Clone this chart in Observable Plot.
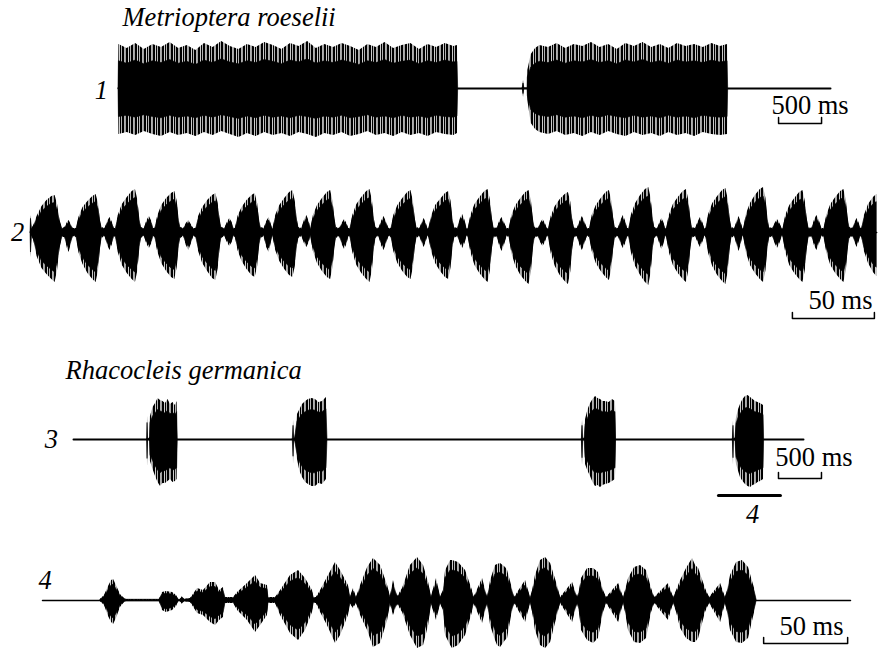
<!DOCTYPE html>
<html>
<head>
<meta charset="utf-8">
<script src="https://cdn.jsdelivr.net/npm/d3@7"></script>
<script src="https://cdn.jsdelivr.net/npm/@observablehq/plot@0.6"></script>
<style>
  html, body { margin: 0; padding: 0; background: #fff; overflow: hidden; }
  #chart svg { display: block; }
  #chart text { font-family: "Liberation Serif", "Times New Roman", "DejaVu Serif", serif !important; }
</style>
</head>
<body>
<svg width="0" height="0" style="position:absolute">
  <defs>
    <pattern id="hatch" width="9" height="6" patternUnits="userSpaceOnUse">
      <rect x="0" y="0" width="2" height="6" fill="black"/>
      <rect x="2.8" y="0" width="1.5" height="6" fill="black"/>
      <rect x="5" y="0" width="2.2" height="6" fill="black"/>
      <rect x="7.8" y="0" width="0.7" height="6" fill="#444"/>
    </pattern>
  </defs>
</svg>
<div id="chart"></div>
<script>
// ---------- DATA (time in ms, amplitude in relative units: [t, upper, lower]) ----------
const speciesNames = ["Metrioptera roeselii", "Rhacocleis germanica"];
const traceNumbers = ["1", "2", "3", "4"];
const scaleLabels = ["500 ms", "50 ms", "500 ms", "50 ms"];
const detailLabel = "4";

// Trace 1: M. roeselii, two long echemes
const t1Line = [0, 8280];
const t1Burst1 = [[0,0,0],[5,44,46],[100,40,44],[200,45,47],[300,39,43],[400,44,46],[500,41,48],[600,46,44],[700,40,47],[800,43,45],[900,38,48],[1000,45,44],[1100,41,47],[1200,47,43],[1300,42,46],[1400,39,49],[1500,44,45],[1600,41,48],[1700,46,44],[1800,43,47],[1900,39,45],[2000,45,48],[2100,42,44],[2200,47,46],[2300,40,49],[2400,44,45],[2500,41,47],[2600,45,44],[2700,42,48],[2800,38,46],[2900,44,43],[3000,41,47],[3100,46,45],[3200,40,48],[3300,43,44],[3400,45,47],[3500,39,45],[3600,44,48],[3700,41,44],[3800,45,46],[3900,42,47],[3942,43,45],[3950,0,0]];
const t1Burst2 = [[4700,0,0],[4710,8,9],[4720,0,0],[4757,0,0],[4760,18,12],[4800,34,35],[4850,40,41],[4900,43,44],[5000,41,46],[5100,45,43],[5200,40,47],[5300,44,45],[5400,42,48],[5500,46,44],[5600,41,47],[5700,44,43],[5800,39,46],[5900,45,48],[6000,42,44],[6100,46,47],[6200,41,45],[6300,44,48],[6400,40,44],[6500,45,47],[6600,42,45],[6700,44,48],[6800,41,44],[6900,45,46],[7000,42,47],[7083,44,46],[7090,0,0]];
const t1Scale = [7676, 8176];

// Trace 2: M. roeselii, syllables at high time resolution
const t2Line = [0, 516];
const t2Envelope = [
[0,0,0],[0.3,17,25],[0.9,4,4],[2,7,8],[4,16,24],[7,26,36],[10,32,42],[13,36,47],[15,37,50],[16.5,28,38],[18,12,16],[19.5,4,5],[21,5,5],[22.5,10,16],[23.5,12,20],[24.5,9,14],[26,4,4],
[28,4,5],[29.5,15,20],[32,25,32],[35,31,41],[38,36,47],[40,38,50],[41.5,29,38],[42.5,13,18],[43.5,5,6],[45.5,4,4],[47,11,13],[48.5,15,18],[50,10,12],[51,4,4],
[52,4,5],[53.5,17,20],[56,28,33],[59,35,41],[62,41,47],[64,43,50],[65.5,32,38],[66.5,15,18],[67.5,5,6],[69.5,4,4],[71,12,12],[72.5,16,16],[74,11,11],[75,4,4],
[76,4,5],[77.5,16,19],[80,27,31],[83,34,39],[86,39,45],[88,41,47],[89.5,31,35],[90.5,14,16],[91.5,5,6],[93.5,4,4],[95,9,13],[96.5,12,18],[98,8,12],[99.5,4,4],
[101,4,5],[102.5,16,19],[105,25,31],[108,32,39],[111,37,46],[113,39,48],[114.5,29,36],[115.5,14,17],[116.5,5,6],[118.5,4,4],[120,10,10],[121.5,14,14],[123,10,10],[124,4,4],
[125,4,5],[126.5,16,18],[129,25,29],[132,32,37],[135,37,43],[137,39,45],[138.5,29,34],[139.5,14,16],[140.5,5,6],[142.5,4,4],[144,11,15],[145.5,15,20],[146.5,10,13],[147.5,4,4],
[148,4,5],[149.5,17,18],[152,27,29],[155,34,37],[158,40,43],[160,42,45],[161.5,31,34],[162.5,15,16],[163.5,5,6],[165.5,4,4],[167,12,11],[168.5,17,15],[170,11,10],[170.7,4,4],
[171,4,5],[172.5,17,19],[175,27,31],[178,34,39],[181,40,45],[183,42,47],[184.5,31,35],[185.5,15,16],[186.5,5,6],[188.5,4,4],[190,9,12],[191.5,13,17],[193,9,12],[194,4,4],
[195,4,5],[196.5,17,20],[199,28,33],[202,35,41],[205,41,47],[207,43,50],[208.5,32,38],[209.5,15,18],[210.5,5,6],[212.5,4,4],[214,11,13],[215.5,16,18],[217,11,12],[218.5,4,4],
[220,4,5],[221.5,17,19],[224,27,31],[227,34,39],[230,40,45],[232,42,47],[233.5,31,35],[234.5,15,16],[235.5,5,6],[237.5,4,4],[238.8,10,11],[240,14,15],[241.2,10,10],[242.2,4,4],
[243,4,5],[244.5,16,19],[247,27,31],[250,33,39],[253,39,45],[255,41,47],[256.5,31,35],[257.5,14,16],[258.5,5,6],[260.5,4,4],[262,13,11],[263.5,18,16],[265,12,11],[266,4,4],
[267,4,5],[268.5,17,20],[271,28,33],[274,35,41],[277,41,47],[279,43,50],[280.5,32,38],[281.5,15,18],[282.5,5,6],[284.5,4,4],[286,11,13],[287.5,15,19],[289,10,13],[290.5,4,4],
[292,4,5],[293.5,17,21],[296,27,34],[299,34,43],[302,40,49],[304,42,52],[305.5,31,39],[306.5,15,18],[307.5,5,6],[309.5,4,4],[311,9,10],[312.5,13,14],[314,9,10],[315,4,4],
[316,4,5],[317.5,16,21],[320,26,34],[323,33,43],[326,38,49],[328,40,52],[329.5,30,39],[330.5,14,18],[331.5,5,6],[333.5,4,4],[335,11,13],[336.5,16,18],[338,11,12],[339.5,4,4],
[341,4,5],[342.5,17,19],[345,27,31],[348,34,39],[351,40,45],[353,42,48],[354.5,31,36],[355.5,15,17],[356.5,5,6],[358.5,4,4],[360,12,11],[361.5,17,16],[363,11,11],[364,4,4],
[365,4,5],[366.5,18,21],[369,29,34],[372,37,43],[375,43,50],[377,45,53],[378.5,34,40],[379.5,16,19],[380.5,5,6],[382.5,4,4],[383.8,10,12],[385,14,17],[386.2,10,12],[387.3,4,4],
[388,4,5],[389.5,17,20],[392,28,33],[395,35,41],[398,41,47],[400,43,50],[401.5,32,38],[402.5,15,18],[403.5,5,6],[405.5,4,4],[407,10,10],[408.5,15,15],[410,10,10],[411,4,4],
[412,4,5],[413.5,18,21],[416,29,34],[419,36,43],[422,42,49],[424,44,52],[425.5,33,39],[426.5,15,18],[427.5,5,6],[429.5,4,4],[430.8,11,13],[432,16,19],[433.2,11,13],[434.3,4,4],
[435,4,5],[436.5,18,20],[439,29,33],[442,37,41],[445,43,47],[447,45,50],[448.5,34,38],[449.5,16,18],[450.5,5,6],[452.5,4,4],[454,9,11],[455.5,13,16],[457,9,11],[458.3,4,4],
[459,4,5],[460.5,17,20],[463,27,33],[466,34,41],[469,40,47],[471,42,50],[472.5,31,38],[473.5,15,18],[474.5,5,6],[476.5,4,4],[478,12,13],[479.5,17,18],[481,12,12],[482.5,4,4],
[484,4,5],[485.5,17,20],[488,28,33],[491,35,41],[494,41,47],[496,43,50],[497.5,32,38],[498.5,15,18],[499.5,5,6],[501.5,4,4],[502.8,10,10],[504,14,15],[505.2,10,10],[506.3,4,4],
[507,4,5],[508.5,17,19],[511,28,31],[514,35,40],[516,38,44]
];
const t2Scale = [464.6, 514.6];

// Trace 3: R. germanica, four short echemes
const t3Line = [0, 8490];
const t3Bursts = [
[[855,0,0],[861,23,27],[868,0,0],[890,2,2],[895,23,22],[925,32,30],[954,36,37],[983,41,43],[1012,39,47],[1041,38,44],[1070,36,44],[1099,40,42],[1128,35,40],[1157,37,43],[1186,34,42],[1205,38,40],[1212,0,0]],
[[2550,0,0],[2559,19,24],[2566,0,0],[2578,2,2],[2605,25,20],[2634,30,32],[2663,35,38],[2700,38,43],[2733,40,45],[2775,41,47],[2814,40,47],[2855,37,44],[2896,38,45],[2942,42,40],[2954,0,0]],
[[5912,0,0],[5920,19,26],[5927,0,0],[5945,2,2],[5955,20,25],[5985,30,32],[6013,36,37],[6042,40,43],[6071,43,47],[6100,41,46],[6129,40,48],[6158,38,46],[6187,38,45],[6230,37,44],[6268,40,42],[6303,38,40],[6310,0,0]],
[[7668,0,0],[7676,19,26],[7683,0,0],[7700,2,2],[7711,22,25],[7735,30,32],[7757,35,38],[7786,40,42],[7815,43,45],[7845,44,47],[7874,42,48],[7903,40,46],[7932,38,45],[7961,37,43],[7990,36,42],[8025,34,40],[8032,0,0]]
];
const t3Scale = [8199, 8699];
const t3Detail = [7501, 8222];

// Trace 4: R. germanica, one echeme at high time resolution
const t4Line = [0, 480.9];
const t4Envelope = [
[34.5,1,1],[36.9,5,5],[39.3,14,16],[41.1,20,22],[42.3,21,24],[44.0,15,18],[46.4,6,7],[48.8,2,2],[50.0,1,1],
[69.6,1,1],[71.4,8,10],[73.8,9,12],[77.4,8,10],[79.8,5,6],[81.0,1,1],[82.1,1,1],[83.3,4,4],[84.5,1,1],
[88.1,2,2],[92.3,12,13],[95.8,10,15],[100.0,18,22],[103.0,18,25],[105.4,10,20],[107.7,13,17],[108.9,3,3],[113.7,3,3],
[116.1,8,10],[122.0,17,20],[126.8,25,32],[129.8,17,25],[133.9,15,15],[134.5,3,3],[138.7,3,3],
[141.7,10,15],[147.6,25,33],[152.4,30,40],[156.5,22,30],[160.7,10,12],[161.5,3,3],[163.0,3,3],
[165.5,10,12],[169.6,23,25],[174.4,38,43],[177.4,30,35],[182.1,15,15],[183.3,4,4],[185.1,12,8],[186.9,3,3],
[189.3,15,15],[193.5,33,30],[197.0,42,47],[201.2,35,43],[205.4,15,20],[207.1,4,4],[208.9,20,15],[211.3,4,4],
[214.3,12,12],[219.0,35,35],[223.2,43,48],[226.8,35,45],[229.8,18,25],[231.5,4,4],[234.5,22,20],[236.9,4,4],
[238.7,10,10],[239.9,30,35],[242.9,40,45],[244.0,40,48],[247.6,38,45],[251.8,30,35],[255.9,10,12],[256.8,3,3],[261.9,22,23],[264.9,3,3],
[266.7,20,25],[269.6,35,40],[270.8,36,45],[272.6,37,47],[275.6,33,40],[276.8,30,38],[279.2,15,15],[280.9,3,3],[287.5,20,22],[290.5,3,3],
[291.7,10,12],[293.4,25,30],[296.4,40,45],[299.4,43,48],[302.4,37,42],[306.5,15,15],[308.3,3,3],[315.5,18,22],[318.5,3,3],
[319.6,10,12],[320.8,22,30],[324.4,32,40],[328.0,32,43],[330.9,28,38],[333.9,10,12],[335.7,3,3],[342.9,17,22],[345.8,3,3],
[347.0,10,12],[348.8,22,30],[352.4,33,42],[355.9,35,43],[359.5,30,38],[362.5,12,12],[364.3,3,3],[372.6,17,20],[375.6,3,3],
[377.4,10,12],[379.8,20,28],[383.3,32,38],[386.9,42,42],[388.7,35,42],[390.5,32,38],[394.6,12,12],[397.0,3,3],[403.6,17,22],[406.5,3,3],
[407.7,10,12],[409.5,25,30],[413.1,38,42],[416.6,40,43],[420.2,33,38],[423.8,12,12],[425.0,1,1]
];
const t4Scale = [429.2, 479.2];

// ---------- helpers ----------
const FONT = "Liberation Serif";
// solid share of the envelope; the outer fringe is hatched like an oscillogram
const envelope = core => rows => [
  Plot.areaY(rows, {x: d => d[0], y1: d => -d[2], y2: d => d[1], fill: "url(#hatch)", curve: "linear"}),
  Plot.areaY(rows, {x: d => d[0], y1: d => -d[2] * core, y2: d => d[1] * core,
    fill: "black", stroke: "black", strokeWidth: 0.6, curve: "linear"})
];
const baseline = (ext, w) => Plot.line(ext.map(t => [t, 0]), {stroke: "black", strokeWidth: w});
const bracket = (ext, yBar, yTick) => Plot.line(
  [[ext[0], yTick], [ext[0], yBar], [ext[1], yBar], [ext[1], yTick]],
  {stroke: "black", strokeWidth: 1.5});
const label = (txt, x, y, opts = {}) => Plot.text([txt], {
  x, y, text: d => d, fontSize: 26.5, fontFamily: FONT, fill: "black",
  lineAnchor: "middle", textAnchor: "middle", ...opts
});
const panel = (height, mt, mb, ml, mr, domain, marks) => Plot.plot({
  width: 879, height, marginTop: mt, marginBottom: mb, marginLeft: ml, marginRight: mr,
  x: {domain, axis: null}, y: {domain: [-50, 50], axis: null},
  style: {background: "white", overflow: "visible", fontFamily: FONT},
  marks
});

const chart = document.getElementById("chart");

chart.append(panel(165, 38, 27, 118, 49, t1Line, [
  baseline(t1Line, 2),
  envelope(0.62)(t1Burst1),
  envelope(0.62)(t1Burst2),
  bracket(t1Scale, -35, -29),
  label(speciesNames[0], 47, 71.3, {textAnchor: "start", fontStyle: "italic"}),
  label(traceNumbers[0], -198, -1.7, {fontStyle: "italic"}),
  label(scaleLabels[0], 8042, -16.7)
]));

chart.append(panel(180, 17, 63, 30, 2.8, t2Line, [
  baseline(t2Line, 1.5),
  envelope(0.8)(t2Envelope),
  bracket(t2Scale, -86, -80),
  label(traceNumbers[1], -7.9, 0.3, {fontStyle: "italic"}),
  label(scaleLabels[1], 493.9, -67.7)
]));

chart.append(panel(185, 44, 41, 73, 76, t3Line, [
  baseline(t3Line, 2),
  ...t3Bursts.map(envelope(0.72)),
  bracket(t3Scale, -39, -33),
  Plot.line(t3Detail.map(t => [t, -56]), {stroke: "black", strokeWidth: 3}),
  label(speciesNames[1], -93, 69.3, {textAnchor: "start", fontStyle: "italic"}),
  label(traceNumbers[2], -256, 0.3, {fontStyle: "italic"}),
  label(scaleLabels[2], 8612, -17.7),
  label(detailLabel, 7897, -74.7, {fontStyle: "italic"})
]));

chart.append(panel(120, 20, 0, 42, 29, t4Line, [
  baseline(t4Line, 1.5),
  envelope(0.75)(t4Envelope),
  bracket(t4Scale, -43, -37),
  label(traceNumbers[3], 1.5, 20.3, {fontStyle: "italic"}),
  label(scaleLabels[3], 457.7, -25.7)
]));
</script>
</body>
</html>
